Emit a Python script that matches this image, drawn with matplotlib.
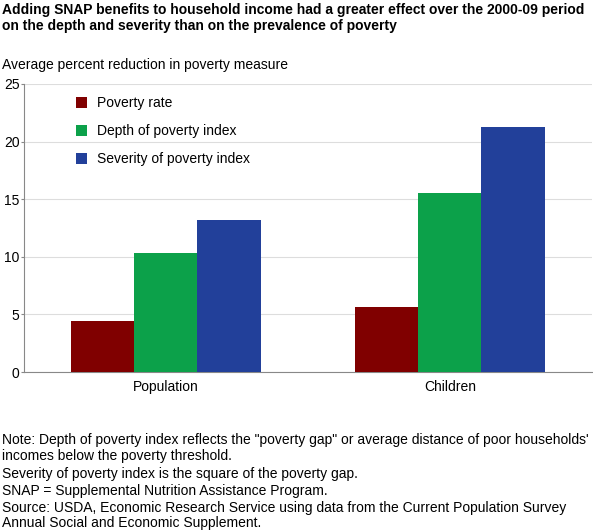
import numpy as np
import matplotlib.pyplot as plt

categories = ["Population", "Children"]
series = ["Poverty rate", "Depth of poverty index", "Severity of poverty index"]
poverty_rate = [4.4, 5.6]
depth_index = [10.3, 15.5]
severity_index = [13.2, 21.3]
colors = ["#800000", "#0ca14a", "#22409a"]

plt.rcParams["font.family"] = ["Liberation Sans", "DejaVu Sans"]
fig = plt.figure(figsize=(5.93, 5.31), dpi=100)
ax = fig.add_axes([0.040, 0.2994, 0.958, 0.5426])

x = np.arange(len(categories))
w = 0.223
for i, (vals, lab) in enumerate(zip([poverty_rate, depth_index, severity_index], series)):
    ax.bar(x + (i - 1) * w, vals, w, color=colors[i], label=lab, zorder=3)

ax.set_xlim(-0.5, 1.5)
ax.set_ylim(0, 25)
ax.set_yticks(range(0, 26, 5))
ax.set_xticks(x)
ax.set_xticklabels(categories, fontsize=10)
ax.tick_params(axis="y", labelsize=10, length=2, pad=1, color="#888888")
ax.tick_params(axis="x", length=0, pad=6)
ax.grid(axis="y", color="#dddddd", lw=0.8, zorder=0)
for s in ["top", "right"]:
    ax.spines[s].set_visible(False)
ax.spines["left"].set_color("#888888")
ax.spines["bottom"].set_color("#888888")

ax.legend(loc="upper left", bbox_to_anchor=(0.07, 1.0), frameon=False, fontsize=10,
          handlelength=0.8, handleheight=0.8, labelspacing=1.0, handletextpad=0.7)

fig.text(0.004, 0.995, "Adding SNAP benefits to household income had a greater effect over the 2000-09 period\n"
         "on the depth and severity than on the prevalence of poverty",
         fontsize=10, fontweight="bold", va="top", linespacing=1.25)
fig.text(0.004, 0.877, "Average percent reduction in poverty measure", fontsize=10, va="center")

note_lines = [
    (440, "Note: Depth of poverty index reflects the \"poverty gap\" or average distance of poor households'"),
    (456, "incomes below the poverty threshold."),
    (474, "Severity of poverty index is the square of the poverty gap."),
    (491, "SNAP = Supplemental Nutrition Assistance Program."),
    (508, "Source: USDA, Economic Research Service using data from the Current Population Survey"),
    (523, "Annual Social and Economic Supplement."),
]
for ypx, t in note_lines:
    fig.text(0.004, 1 - ypx / 531, t, fontsize=10, va="center")

fig.savefig("out.png", dpi=100)
